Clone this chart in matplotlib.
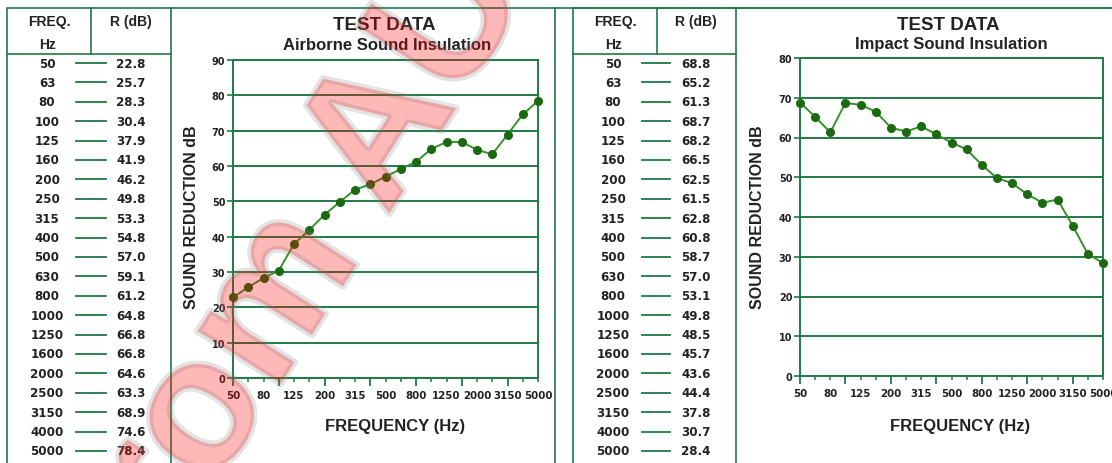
import matplotlib
matplotlib.use("Agg")
import matplotlib.pyplot as plt
import matplotlib.patheffects as pe
from matplotlib.lines import Line2D
from matplotlib.patches import Rectangle

# data
freqs = ['50', '63', '80', '100', '125', '160', '200', '250', '315', '400', '500',
         '630', '800', '1000', '1250', '1600', '2000', '2500', '3150', '4000', '5000']
airborne = [22.8, 25.7, 28.3, 30.4, 37.9, 41.9, 46.2, 49.8, 53.3, 54.8, 57.0,
            59.1, 61.2, 64.8, 66.8, 66.8, 64.6, 63.3, 68.9, 74.6, 78.4]
impact = [68.8, 65.2, 61.3, 68.7, 68.2, 66.5, 62.5, 61.5, 62.8, 60.8, 58.7,
          57.0, 53.1, 49.8, 48.5, 45.7, 43.6, 44.4, 37.8, 30.7, 28.4]

W, H = 1112, 464
GREEN = '#1f7a45'
LINE = '#34922a'
DOT = '#1b6a12'
TXT = '#222222'
HEAD = 'Liberation Sans'
NUM = 'DejaVu Sans'

fig = plt.figure(figsize=(W / 100, H / 100), dpi=100)


def fx(x):
    return x / W


def fy(y):
    return 1 - y / H


def hline(x0, x1, y, lw=1.2):
    fig.add_artist(Line2D([fx(x0), fx(x1)], [fy(y), fy(y)], color=GREEN, lw=lw,
                          transform=fig.transFigure))


def vline(x, y0, y1, lw=1.2):
    fig.add_artist(Line2D([fx(x), fx(x)], [fy(y0), fy(y1)], color=GREEN, lw=lw,
                          transform=fig.transFigure))


def panel(left, tab_right, divider, freq_x, dash_x0, dash_x1, val_x, values,
          ax_box, ymax, title_x, subtitle, ylab_x, xlab_x):
    # outer box + table frame
    fig.add_artist(Rectangle((fx(left), fy(480)), fx(1200) - fx(left), fy(9) - fy(480),
                             fill=False, ec=GREEN, lw=1.2, transform=fig.transFigure))
    vline(tab_right, 9, 480)
    vline(divider, 9, 55)
    hline(left, tab_right, 55)
    fig.text(fx(freq_x + 2), fy(22), 'FREQ.', family=HEAD, weight='bold', size=10,
             color=TXT, ha='center', va='center')
    fig.text(fx(freq_x + 1), fy(45), 'Hz', family=HEAD, weight='bold', size=10,
             color=TXT, ha='center', va='center')
    fig.text(fx(val_x), fy(22), 'R (dB)', family=HEAD, weight='bold', size=10,
             color=TXT, ha='center', va='center')
    n = len(freqs)
    for i, (f, v) in enumerate(zip(freqs, values)):
        y = 64 + i * (452 - 64) / (n - 1)
        fig.text(fx(freq_x), fy(y), f, family=NUM, weight='bold', size=8.6,
                 color=TXT, ha='center', va='center')
        fig.text(fx(val_x), fy(y), f'{v:.1f}', family=NUM, weight='bold', size=8.6,
                 color=TXT, ha='center', va='center')
        hline(dash_x0, dash_x1, y, lw=1.3)

    # titles
    fig.text(fx(title_x), fy(25), 'TEST DATA', family=HEAD, weight='bold', size=13.5,
             color=TXT, ha='center', va='center')
    fig.text(fx(title_x + 3), fy(45), subtitle, family=HEAD, weight='bold', size=12,
             color=TXT, ha='center', va='center')

    x0, y0, x1, y1 = ax_box
    ax = fig.add_axes([fx(x0), fy(y1), fx(x1) - fx(x0), fy(y0) - fy(y1)])
    idx = list(range(n))
    ax.plot(idx, values, color=LINE, lw=1.4, marker='o', ms=5.5,
            mfc=DOT, mec=DOT, zorder=3, clip_on=False)
    ax.set_xlim(0, n - 1)
    ax.set_ylim(0, ymax)
    ax.set_yticks(range(0, ymax + 1, 10))
    ax.grid(axis='y', color=GREEN, lw=1.4)
    ax.set_axisbelow(True)
    for s in ax.spines.values():
        s.set_color(GREEN)
        s.set_linewidth(1.4)
    ax.tick_params(axis='y', colors=GREEN, length=4, width=1.2, pad=1.5,
                   labelcolor=TXT, labelsize=7)
    for lab in ax.get_yticklabels():
        lab.set_family(NUM)
        lab.set_weight('bold')

    # octave ticks long, the rest short
    ax.set_xticks(idx[::3])
    ax.set_xticks([i for i in idx if i % 3], minor=True)
    ax.tick_params(axis='x', which='major', colors=GREEN, length=6, width=1.3,
                   labelbottom=False)
    ax.tick_params(axis='x', which='minor', colors=GREEN, length=3, width=1.1)

    sec = ax.secondary_xaxis('bottom')
    sec.set_xticks(idx[::2], labels=freqs[::2])
    sec.tick_params(length=0, pad=9, labelsize=7.4, labelcolor=TXT)
    sec.spines['bottom'].set_visible(False)
    for lab in sec.get_xticklabels():
        lab.set_family(NUM)
        lab.set_weight('bold')

    fig.text(fx(ylab_x), fy(217), 'SOUND REDUCTION dB', family=HEAD, weight='bold',
             size=11.5, color=TXT, ha='center', va='center', rotation=90)
    fig.text(fx(xlab_x), fy(427), 'FREQUENCY (Hz)', family=HEAD, weight='bold',
             size=12, color=TXT, ha='center', va='center')
    return ax


panel(7, 171, 91, 47, 76, 106, 131, airborne, (233, 61, 538, 379), 90,
      384, 'Airborne Sound Insulation', 192, 395)
vline(555, 9, 480)
panel(573, 736, 657, 613, 642, 670, 696, impact, (800, 59, 1103, 377), 80,
      948, 'Impact Sound Insulation', 757, 960)

# watermark across the left panel
fig.text(fx(322), fy(320), 'From AU', family=HEAD, weight='bold', size=134,
         color=(1, 0, 0, 0.15), rotation=57.5, rotation_mode='anchor',
         ha='center', va='baseline', zorder=10,
         path_effects=[pe.Stroke(linewidth=5, foreground=(0.5, 0.5, 0.5, 0.22)),
                       pe.Normal()])

fig.savefig('out.png', dpi=100)
